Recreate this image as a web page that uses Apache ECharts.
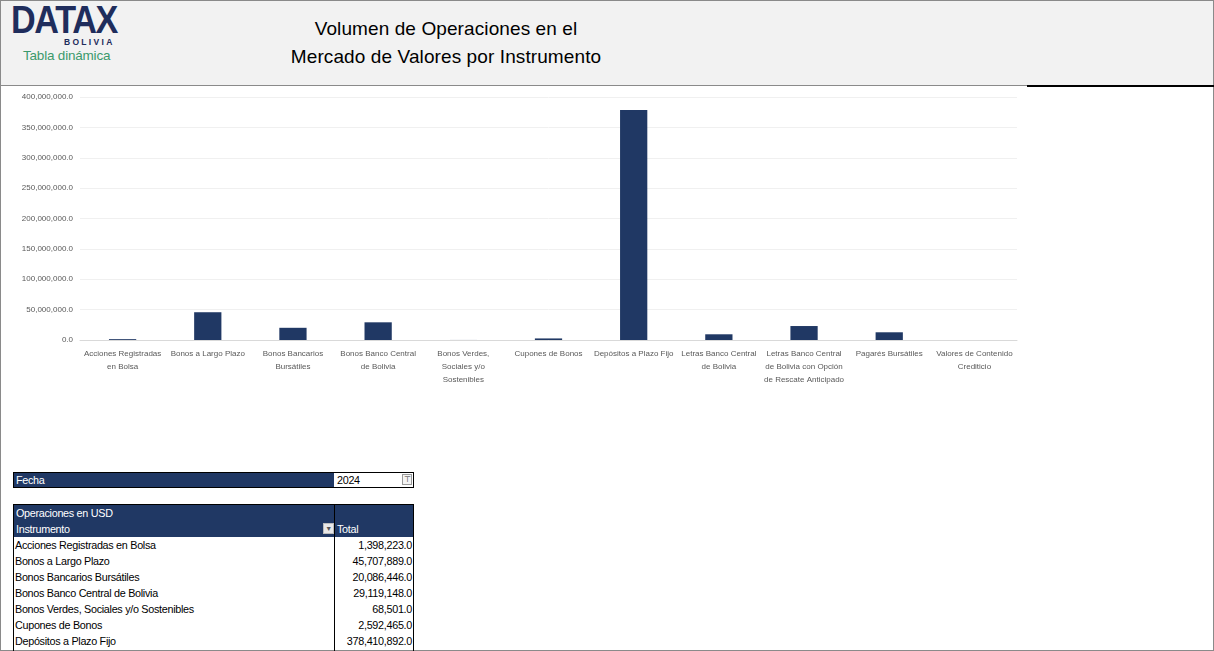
<!DOCTYPE html>
<html>
<head>
<meta charset="utf-8">
<script src="https://cdn.jsdelivr.net/npm/echarts@6/dist/echarts.min.js"></script>
<style>
  html,body{margin:0;padding:0;width:1214px;height:651px;overflow:hidden;background:#fff;font-family:"Liberation Sans",Arial,sans-serif;}
  #frame{position:absolute;left:0;top:0;width:1212px;height:649px;border:1px solid #8a8a8a;}
  #header{position:absolute;left:1px;top:1px;width:1212px;height:84px;background:#f2f2f2;}
  #hline{position:absolute;left:0;top:85px;width:1027px;height:1px;background:#8a8a8a;}
  #hblack{position:absolute;left:1027px;top:85px;width:187px;height:2px;background:#000;}
  .title{position:absolute;left:246px;width:400px;text-align:center;font-size:19px;color:#000;white-space:nowrap;letter-spacing:0.1px;}
  #logo{position:absolute;left:11px;top:0px;font-weight:bold;color:#1f2d5c;font-size:38px;letter-spacing:-1.5px;transform:scaleX(0.9);transform-origin:left top;line-height:40px;}
  #bol{position:absolute;left:64px;top:37px;font-weight:bold;color:#1f2d5c;font-size:8.5px;letter-spacing:2.3px;}
  #tabla{position:absolute;left:23px;top:48px;color:#3c9a6c;font-size:13.5px;font-family:"Liberation Sans",sans-serif;letter-spacing:-0.2px;}
  #chart{position:absolute;left:0;top:86px;width:1214px;height:310px;}
  .tbl{position:absolute;font-size:10.8px;letter-spacing:-0.3px;color:#000;}
  .row{position:absolute;height:16px;line-height:16px;}
  .navy{background:#203864;color:#fff;}
</style>
</head>
<body>
<div id="frame"></div>
<div id="header"></div>
<div id="hline"></div>
<div id="hblack"></div>
<div id="logo">DATAX</div>
<div id="bol">BOLIVIA</div>
<div id="tabla">Tabla dinámica</div>
<div class="title" style="top:18px;">Volumen de Operaciones en el</div>
<div class="title" style="top:46px;">Mercado de Valores por Instrumento</div>
<div id="chart"></div>
<div id="tables"></div>
<script>
// ---- data ----
const categories = [
  "Acciones Registradas en Bolsa",
  "Bonos a Largo Plazo",
  "Bonos Bancarios Bursátiles",
  "Bonos Banco Central de Bolivia",
  "Bonos Verdes, Sociales y/o Sostenibles",
  "Cupones de Bonos",
  "Depósitos a Plazo Fijo",
  "Letras Banco Central de Bolivia",
  "Letras Banco Central de Bolivia con Opción de Rescate Anticipado",
  "Pagarés Bursátiles",
  "Valores de Contenido Crediticio"
];
const tickLabels = [
  "Acciones Registradas\nen Bolsa",
  "Bonos a Largo Plazo",
  "Bonos Bancarios\nBursátiles",
  "Bonos Banco Central\nde Bolivia",
  "Bonos Verdes,\nSociales y/o\nSostenibles",
  "Cupones de Bonos",
  "Depósitos a Plazo Fijo",
  "Letras Banco Central\nde Bolivia",
  "Letras Banco Central\nde Bolivia con Opción\nde Rescate Anticipado",
  "Pagarés Bursátiles",
  "Valores de Contenido\nCrediticio"
];
const totals = [1398223, 45707889, 20086446, 29119148, 68501, 2592465, 378410892, 9400000, 23000000, 12700000, 0];
const yMin = 0, yMax = 400000000, yStep = 50000000;
const fechaLabel = "Fecha", fechaValue = "2024";
const tableTitle = "Operaciones en USD", colInstr = "Instrumento", colTotal = "Total";

function fmt(v){ return v.toLocaleString('en-US',{minimumFractionDigits:1,maximumFractionDigits:1}); }

// ---- chart ----
const chart = echarts.init(document.getElementById('chart'), null, {renderer:'canvas'});
chart.setOption({
  animation:false,
  backgroundColor:'transparent',
  grid:{left:80, right:197, top:11, bottom:56, containLabel:false},
  xAxis:{
    type:'category', data:categories,
    axisTick:{show:false},
    axisLine:{lineStyle:{color:'#d9d9d9', width:1}},
    axisLabel:{interval:0, fontSize:8, color:'#595959', lineHeight:13, margin:7,
      fontFamily:'Liberation Sans',
      formatter:(v,i)=>tickLabels[i]}
  },
  yAxis:{
    type:'value', min:yMin, max:yMax, interval:yStep,
    axisLine:{show:false}, axisTick:{show:false},
    splitLine:{lineStyle:{color:'#f0f0f0', width:1}},
    axisLabel:{fontSize:8, color:'#595959', margin:7, fontFamily:'Liberation Sans', formatter:v=>fmt(v)}
  },
  series:[{type:'bar', data:totals, barWidth:'32%',
    itemStyle:{color:'#203864'}}]
});

// ---- pivot tables (HTML) ----
const T = document.getElementById('tables');
let html = '';
// Fecha filter
html += `<div class="tbl" style="left:13px;top:472px;width:401px;height:16px;border:1px solid #000;box-sizing:border-box;"></div>`;
html += `<div class="tbl row navy" style="left:14px;top:473px;width:320px;height:14px;line-height:14px;padding-left:2px;box-sizing:border-box;">${fechaLabel}</div>`;
html += `<div class="tbl row" style="left:336px;top:473px;width:70px;height:14px;line-height:14px;padding-left:1px;">${fechaValue}</div>`;
html += `<div class="tbl" style="left:402px;top:474px;width:10px;height:11px;border:1px solid #9a9a9a;box-sizing:border-box;background:#f4f4f4;font-size:8px;line-height:9px;text-align:center;color:#333;">⊤</div>`;
// main table outer
const top0 = 504, rowH = 16;
const nRows = categories.length;
html += `<div class="tbl" style="left:13px;top:${top0}px;width:401px;height:${2*rowH+1+nRows*rowH}px;border:1px solid #000;box-sizing:border-box;"></div>`;
html += `<div class="tbl navy" style="left:14px;top:${top0+1}px;width:399px;height:${2*rowH}px;"></div>`;
html += `<div class="tbl row" style="left:16px;top:${top0+1}px;color:#fff;">${tableTitle}</div>`;
html += `<div class="tbl row" style="left:16px;top:${top0+1+rowH}px;color:#fff;">${colInstr}</div>`;
html += `<div class="tbl row" style="left:337px;top:${top0+1+rowH}px;color:#fff;">${colTotal}</div>`;
html += `<div class="tbl" style="left:323px;top:${top0+1+rowH+2}px;width:11px;height:11px;background:#e8e8e8;border:1px solid #bbb;box-sizing:border-box;font-size:7px;line-height:9px;text-align:center;color:#555;">▼</div>`;
html += `<div class="tbl" style="left:334px;top:${top0}px;width:1px;height:${2*rowH+1+nRows*rowH}px;background:#000;"></div>`;
categories.forEach((c,i)=>{
  const y = top0 + 1 + 2*rowH + i*rowH;
  html += `<div class="tbl row" style="left:15px;top:${y}px;">${c}</div>`;
  html += `<div class="tbl row" style="left:335px;top:${y}px;width:77px;text-align:right;">${fmt(totals[i])}</div>`;
});
T.innerHTML = html;
</script>
</body>
</html>
